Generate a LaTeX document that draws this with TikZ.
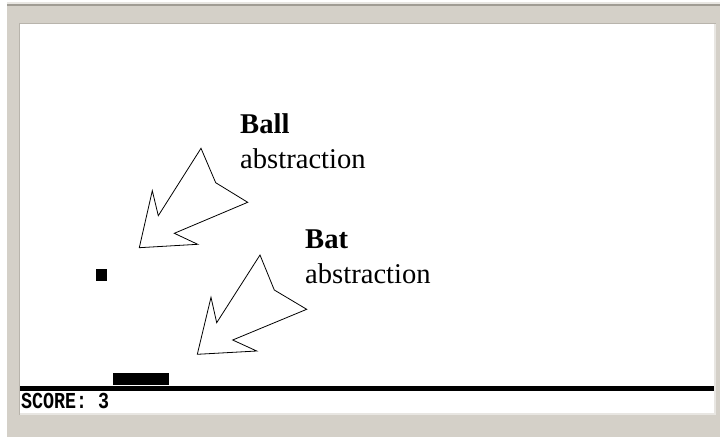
\documentclass[tikz,border=0pt]{standalone}
\usepackage{fontspec}
\setmainfont{Liberation Serif}
\newfontfamily\scorefont{Liberation Mono}
\definecolor{winface}{HTML}{D4D0C8}
\definecolor{winshadow}{HTML}{A09C94}
\definecolor{winedge}{HTML}{B8B4AC}
\definecolor{winlight}{HTML}{E8E6E2}
\begin{document}
\begin{tikzpicture}[x=1pt,y=-1pt,
  label/.style={anchor=base west,inner sep=0pt,font=\fontsize{28.6}{34}\selectfont},
  pointer/.style={draw=black,line width=0.8pt,fill=white,line join=miter},
  solid block/.style={fill=black,draw=none,inner sep=0pt,minimum width=#1}]
  \useasboundingbox (0,0) rectangle (720,437);
  % window frame
  \fill[white] (0,0) rectangle (720,437);
  \fill[winface] (7,6) rectangle (720,437);
  \fill[winlight] (7,2) rectangle (720,4);
  \fill[winshadow] (7,4) rectangle (720,6);
  % game area
  \fill[winedge] (19,23) rectangle (716,415);
  \fill[winlight] (20,24) rectangle (716,415);
  \fill[white] (20,24) rectangle (714,413);
  % ball, bat and floor line
  \node[solid block=11pt,minimum height=12pt] (ball) at (101.5,275) {};
  \node[solid block=56pt,minimum height=12pt] (bat) at (141,379) {};
  \node[solid block=694pt,minimum height=5pt] (floor) at (367,388.5) {};
  \node[anchor=base west,inner sep=0pt,font=\scorefont\bfseries\fontsize{18.7}{20}\selectfont] (score) at (21,408.3) {\scalebox{0.98}[1.22]{SCORE: 3}};
  % captions
  \node[label] (balltitle) at (240,133.3) {\textbf{Ball}};
  \node[label] (balltext) at (240,168.3) {abstraction};
  \node[label] (battitle) at (305,248.3) {\textbf{Bat}};
  \node[label] (battext) at (305,283.3) {abstraction};
  % outline arrows
  \draw[pointer] (201,148.3) -- (215.7,182.7) -- (247.7,202.3) -- (174.3,233.3)
    -- (197.7,244.3) -- (139.3,247.7) -- (152.3,190.7) -- (158.3,215.7) -- cycle;
  \draw[pointer] (260,255) -- (274.3,290) -- (306.7,309.3) -- (232.7,340)
    -- (256.7,351) -- (197.3,354.3) -- (211,297.3) -- (216.7,322.7) -- cycle;
\end{tikzpicture}
\end{document}
